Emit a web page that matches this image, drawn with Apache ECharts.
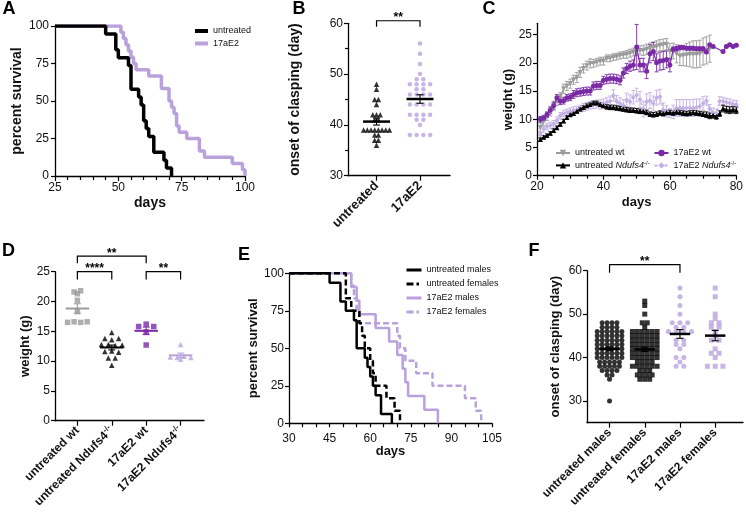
<!DOCTYPE html>
<html><head><meta charset="utf-8">
<script src="https://cdn.jsdelivr.net/npm/echarts@6/dist/echarts.min.js"></script>
<style>html,body{margin:0;padding:0;background:#fff}#c{width:746px;height:514px}</style>
</head><body><div id="c"></div>
<script>
// ---------- DATA ----------
// Panel A: Kaplan-Meier survival (day, percent)
const survA_untreated_days = [25,45,49,50,54,55,58,59,60,61,62,64,68,69,71];
const survA_untreated_pct  = [100,94.7,84.2,78.9,73.7,57.9,52.6,47.4,36.8,31.6,26.3,15.8,10.5,5.3,0];
const survA_17aE2_days = [25,51,52,53,54,55,56,57,62,67,70,71,72,73,74,77,82,84,95,99,100];
const survA_17aE2_pct  = [100,95.8,91.7,87.5,83.3,79.2,75,70.8,66.7,58.3,50,45.8,41.7,33.3,29.2,25,16.7,12.5,8.3,4.2,0];

// Panel B: onset of clasping (day)
const catsB = ['untreated','17aE2'];
const clasp_untreated = [48,47,45,45,44,42,42,42,41,41,39,39,39,39,39,39,39,39,38,38,37,37,36];
const clasp_17aE2 = [56,54,52,50,49,49,48,48,48,48,47,47,46,46,46,46,44,44,44,44,42,42,42,42,41,41,40,38,38,38,38];

// Panel C: weight over time (mean, SEM)
const daysC = [21,22,23,24,25,26,27,28,29,30,31,32,33,34,35,36,37,38,39,40,41,42,43,44,45,46,47,48,49,50,51,52,53,54,55,56,57,58,59,60,61,62,63,64,65,66,67,68,69,70,71,72,73,74,75,76,77,78,79,80];
const wUntreatedWt = [8.5,9.6,10.5,11.3,12.4,13.2,14.0,15.4,15.9,16.3, 17.0,17.4,18.3,19.0,19.5,19.9,19.9,20.1,20.3,20.3, 20.8,20.8,21.0,21.1,21.3,21.4,21.5,21.7,21.9,22.1, 22.2,22.2,22.4,22.6,22.7,22.9,23.1,23.2,23.3,22.0, 22.1,21.6,21.2,21.3,21.4,21.5,21.5,21.5,21.6,22.0, 22.2,22.5,null,null,null,null,null,null,null,null];
const eUntreatedWt = [0.9,0.8,0.7,0.7,0.8,0.8,0.7,0.8,0.8,0.8, 0.8,0.9,0.9,0.8,0.8,0.8,0.7,0.7,0.7,0.7, 0.6,0.6,0.6,0.6,0.6,0.6,0.7,0.7,0.7,0.8, 0.8,0.9,0.9,0.9,1.0,1.0,1.0,1.0,1.0,1.4, 1.4,1.6,1.7,1.8,2.0,2.2,2.4,2.4,2.4,2.4, 2.4,2.4,null,null,null,null,null,null,null,null];
const w17aE2Wt = [10.0,10.2,10.8,11.6,12.4,13.8,13.2,13.3,13.8,13.9, 14.4,14.7,14.8,14.9,15.0,15.0,15.9,16.0,16.0,16.9, 17.1,17.2,17.2,17.1,16.9,18.2,19.0,19.4,19.6,22.8, 19.6,19.6,18.5,21.6,22.0,20.0,20.3,20.4,20.6,19.6, 22.4,22.5,22.7,22.7,22.6,22.6,22.6,22.5,22.5,22.5, 21.9,23.2,22.9,null,null,22.0,22.9,23.2,22.9,23.1];
const e17aE2Wt = [0.5,0.5,0.5,0.6,0.6,0.6,0.6,0.6,0.6,0.6, 0.7,0.7,0.7,0.7,0.7,0.7,0.7,0.7,0.7,0.7, 0.8,0.8,0.8,0.8,0.8,0.9,0.9,0.9,0.9,4.0, 1.2,1.2,1.3,1.6,1.6,1.6,1.6,1.6,1.5,1.2, 0.4,0.4,0.4,0.3,0.3,0.3,0.3,0.3,0.3,0.3, 0.2,0.2,0.2,null,null,0.2,0.2,0.2,0.2,0.2];
const wUntreatedKo = [6.4,6.8,7.1,7.5,8.0,8.5,9.1,9.7,10.3,10.8, 11.0,11.4,11.8,12.1,12.4,12.6,12.9,12.9,12.6,12.4, 12.2,12.1,12.1,12.0,11.9,11.8,11.7,11.6,11.6,11.5, 11.4,11.4,11.2,10.9,10.8,10.9,11.1,11.0,11.2,11.2, 11.1,11.3,11.2,11.1,11.0,11.1,11.2,11.1,11.0,10.9, 10.8,10.6,10.7,10.5,11.0,11.9,11.7,11.6,11.7,11.6];
const eUntreatedKo = [0.3,0.3,0.3,0.3,0.3,0.3,0.3,0.3,0.3,0.3, 0.3,0.3,0.3,0.3,0.3,0.3,0.3,0.3,0.3,0.3, 0.4,0.4,0.4,0.4,0.4,0.4,0.4,0.4,0.4,0.4, 0.4,0.4,0.4,0.4,0.4,0.4,0.4,0.4,0.4,0.4, 0.4,0.4,0.4,0.4,0.4,0.4,0.4,0.4,0.4,0.4, 0.5,0.5,0.5,0.5,0.5,0.6,0.6,0.6,0.6,0.6];
const w17aE2Ko = [7.2,8.3,8.7,8.9,9.2,9.8,10.6,11.0,11.2,11.4, 11.6,11.7,11.9,12.1,12.3,12.5,12.6,12.7,12.6,12.8, 13.0,13.2,14.2,13.2,12.8,12.5,13.4,13.1,13.9,14.3, 13.5,11.8,13.1,13.3,12.8,13.8,14.0,11.7,11.4,11.1, 11.3,12.0,12.0,12.0,12.0,12.0,12.0,12.1,12.3,12.8, 13.3,11.8,11.2,11.0,13.2,13.2,13.0,12.9,12.7,12.6];
const e17aE2Ko = [0.6,0.6,0.6,0.6,0.6,0.6,0.6,0.6,0.6,0.6, 0.6,0.6,0.6,0.7,0.7,0.7,0.7,0.7,0.8,0.8, 0.8,0.9,1.0,1.0,1.0,1.0,1.2,1.2,1.2,1.2, 1.4,1.4,1.4,1.4,1.3,1.3,1.3,1.2,1.0,0.8, 1.2,1.5,1.5,1.5,1.5,1.5,1.5,1.5,1.3,1.2, 0.8,0.8,0.8,0.8,0.8,0.7,0.7,0.7,0.7,0.7];

// Panel D: weight (g)
const catsD = ['untreated wt','untreated Ndufs4-/-','17aE2 wt','17aE2 Ndufs4-/-'];
const weight_untreatedWt = [21.6,21.3,21.8,20.2,18.3,16.5,16.6,16.5,16.6];
const weight_untreatedKo = [14.8,13.8,13.6,13.8,12.8,12.8,12.6,12.7,11.6,11.7,11.5,10.5,10.5,9.3];
const weight_17aE2Wt = [15.8,16.2,15.8,14.9,12.7];
const weight_17aE2Ko = [12.8,10.3,10.7,10.6,10.8,10.6];

// Panel E: survival by sex
const survE_umales_days = [30,45,49,51,54,55,58,59,60,61,62,64,68];
const survE_umales_pct  = [100,93.75,81.25,75,68.75,50,43.75,37.5,31.25,25,18.75,6.25,0];
const survE_ufemales_days = [30,51,53,56,57,58,60,61,62,66,69,71];
const survE_ufemales_pct  = [100,83.3,75,66.7,58.3,50,41.7,33.3,25,16.7,8.3,0];
const survE_tmales_days = [30,53,55,56,62,67,70,72,73,74,80,85];
const survE_tmales_pct  = [100,90.9,81.8,72.7,63.6,54.5,45.5,36.4,27.3,18.2,9.1,0];
const survE_tfemales_days = [30,53,54,55,56,70,71,73,77,83,95,99,101];
const survE_tfemales_pct  = [100,91.7,83.3,75,66.7,58.3,50,41.7,33.3,25,16.7,8.3,0];

// Panel F: onset of clasping by sex
const catsF = ['untreated males','untreated females','17aE2 males','17aE2 females'];
const claspF_umales = [48,48,48,48,47,47,47,47,46,46,46,46,46,46,45,45,45,45,45,45,44,44,44,44,44,44,43,43,43,43,43,43,42,42,42,42,42,42,41,41,41,41,41,41,40,40,40,40,40,40,39,39,39,39,39,38,38,38,38,38,37,37,37,37,36,36,35,30];
const claspF_ufemales = [53,52,50,48,48,47,46,46,46,46,46,46,45,45,45,45,45,45,44,44,44,44,44,44,43,43,43,43,43,43,42,42,42,42,42,42,41,41,41,41,41,41,40,40,40,40,40,40,39,39,39,39,38,38,38,38,38,38,37,37,37,36,36,36,36,35,35,35];
const claspF_tmales = [56,54,52,50,48,48,48,47,47,46,46,46,46,44,44,43,43,42,40,40,39,38,38];
const claspF_tfemales = [56,54,50,49,48,48,47,47,46,45,44,44,42,41,41,40,38,38,38];

// ---------- STYLE / HELPERS ----------
const FONT = '"Liberation Sans", Arial, Helvetica, sans-serif';
const GRAY='#9b9b9b', PURPLE='#7b2aa6', LIGHT='#b9a2dc', LIGHTC='#c3b0e4', INK='#111';

function merge(a,b){const o=Object.assign({},a);for(const k in b){const v=b[k];if(v&&typeof v==='object'&&!Array.isArray(v)&&a[k]&&typeof a[k]==='object'&&!Array.isArray(a[k]))o[k]=merge(a[k],v);else o[k]=v;}return o;}
const baseAxis = {
  axisLine:{show:true,onZero:false,lineStyle:{color:'#000',width:1.3}},
  axisTick:{show:true,length:4,lineStyle:{color:'#000',width:1.2}},
  minorTick:{show:false,length:3,lineStyle:{color:'#000',width:1.2}},
  axisLabel:{color:INK,fontSize:12,fontFamily:FONT,margin:5},
  splitLine:{show:false}, minorSplitLine:{show:false},
  nameLocation:'middle',
  nameTextStyle:{color:INK,fontSize:13,fontWeight:'bold',fontFamily:FONT}
};
const ax = e => merge(baseAxis, e);

function swarm(vals, spacing){
  const groups={}; vals.forEach((v,i)=>{const k=Math.round(v);(groups[k]=groups[k]||[]).push(i);});
  const off=new Array(vals.length);
  Object.keys(groups).forEach(k=>{const g=groups[k];g.forEach((i,j)=>{off[i]=(j-(g.length-1)/2)*spacing;});});
  return off;
}
function meanSem(vals){const n=vals.length,m=vals.reduce((a,b)=>a+b,0)/n;const sd=Math.sqrt(vals.reduce((a,b)=>a+(b-m)*(b-m),0)/(n-1));return [m,sd/Math.sqrt(n)];}

function dotGroup(ai, pos, vals, o){
  const off=swarm(vals,o.spacing); const ms=meanSem(vals);
  return [
    {type:'scatter',name:o.name,xAxisIndex:ai,yAxisIndex:ai,symbol:o.symbol,symbolSize:o.size,
     itemStyle:{color:o.color},data:vals.map((v,i)=>[pos+off[i],v]),z:3,silent:true},
    {type:'custom',xAxisIndex:ai,yAxisIndex:ai,z:5,silent:true,data:[[pos,ms[0],ms[1]]],encode:{x:0,y:1},
     renderItem:(p,api)=>{const x=api.value(0),m=api.value(1),s=api.value(2);
       const a=api.coord([x-o.halfW,m]),b=api.coord([x+o.halfW,m]),hi=api.coord([x,m+s]),lo=api.coord([x,m-s]);const cw=3.5,c=o.meanColor;
       return {type:'group',children:[
        {type:'line',shape:{x1:a[0],y1:a[1],x2:b[0],y2:b[1]},style:{stroke:c,lineWidth:o.meanW}},
        {type:'line',shape:{x1:hi[0],y1:hi[1],x2:lo[0],y2:lo[1]},style:{stroke:c,lineWidth:1.1}},
        {type:'line',shape:{x1:hi[0]-cw,y1:hi[1],x2:hi[0]+cw,y2:hi[1]},style:{stroke:c,lineWidth:1.1}},
        {type:'line',shape:{x1:lo[0]-cw,y1:lo[1],x2:lo[0]+cw,y2:lo[1]},style:{stroke:c,lineWidth:1.1}}]};}}
  ];
}
function brackets(ai, list){
  return {type:'custom',xAxisIndex:ai,yAxisIndex:ai,z:6,silent:true,clip:false,
    data:list.map(b=>[b.from,b.to,b.y,b.drop]),encode:{x:0,y:2},
    renderItem:(p,api)=>{const x1=api.value(0),x2=api.value(1),y=api.value(2),d=api.value(3);
      const A=api.coord([x1,y-d]),B=api.coord([x1,y]),C=api.coord([x2,y]),D=api.coord([x2,y-d]);
      return {type:'group',children:[
        {type:'polyline',shape:{points:[A,B,C,D]},style:{stroke:'#000',lineWidth:1.2,fill:null}},
        {type:'text',x:(B[0]+C[0])/2,y:B[1]+3,style:{text:list[p.dataIndex].label,align:'center',verticalAlign:'bottom',font:'bold 12px '+FONT,fill:'#000'}}]};}};
}
function errBars(ai, xs, ys, es, color, z){
  const data=[];xs.forEach((x,i)=>{if(ys[i]!=null)data.push([x,ys[i]-es[i],ys[i]+es[i]]);});
  return {type:'custom',xAxisIndex:ai,yAxisIndex:ai,z:z,silent:true,data:data,encode:{x:0,y:[1,2]},
    renderItem:(p,api)=>{const x=api.value(0),lo=api.coord([x,api.value(1)]),hi=api.coord([x,api.value(2)]);const w=2;
      return {type:'group',children:[
        {type:'line',shape:{x1:lo[0],y1:lo[1],x2:hi[0],y2:hi[1]},style:{stroke:color,lineWidth:0.9}},
        {type:'line',shape:{x1:lo[0]-w,y1:lo[1],x2:lo[0]+w,y2:lo[1]},style:{stroke:color,lineWidth:0.9}},
        {type:'line',shape:{x1:hi[0]-w,y1:hi[1],x2:hi[0]+w,y2:hi[1]},style:{stroke:color,lineWidth:0.9}}]};}};
}
const pairs=(xs,ys)=>xs.map((x,i)=>[x,ys[i]]).filter(p=>p[1]!=null);
function stepLine(name, ai, xs, ys, color, width, dash, z){
  return {type:'line',name:name,xAxisIndex:ai,yAxisIndex:ai,step:'end',symbol:'none',showSymbol:false,z:z,
    data:pairs(xs,ys),lineStyle:{color:color,width:width,type:dash||'solid',cap:'butt'},itemStyle:{color:color},silent:true};
}
function wLine(name, ai, xs, ys, color, sym, rot, dash, z){
  return {type:'line',name:name,xAxisIndex:ai,yAxisIndex:ai,symbol:sym,symbolSize:5,symbolRotate:rot,showSymbol:true,z:z,
    data:pairs(xs,ys),lineStyle:{color:color,width:1.2,type:dash||'solid'},itemStyle:{color:color},silent:true};
}
function richName(s){const m=s.match(/^(.*?)(-\/-)$/);return m?'{b|'+m[1]+'}{sup|'+m[2]+'}':'{b|'+s+'}';}
const catRich={b:{fontWeight:'bold',fontSize:12,fontFamily:FONT,color:INK},sup:{fontWeight:'bold',fontSize:8,fontFamily:FONT,color:INK,padding:[0,0,7,0]}};
function legRich(s){const m=s.match(/^(.*?)(Ndufs4)(-\/-)$/);return m?'{n|'+m[1]+'}{i|'+m[2]+'}{sup|'+m[3]+'}':'{n|'+s+'}';}
const legTextStyle={fontSize:9,fontFamily:FONT,color:INK,lineHeight:12,
  rich:{n:{fontSize:9,fontFamily:FONT,color:INK},i:{fontSize:9,fontFamily:FONT,fontStyle:'italic',color:INK},sup:{fontSize:6,fontFamily:FONT,color:INK,padding:[0,0,5,0]}}};

// ---------- OPTION ----------
const grid=[
  {left:55,top:26,width:190,height:150},
  {left:348,top:23.3,width:102,height:152.4},
  {left:537,top:23.3,width:204,height:152.4},
  {left:55,top:271.7,width:149,height:149},
  {left:289,top:273.3,width:203,height:150},
  {left:587,top:270.7,width:156,height:152}
];
const xAxis=[
  ax({gridIndex:0,type:'value',min:25,max:100,interval:25,axisTick:{length:5},minorTick:{show:true,splitNumber:5,length:4},axisLabel:{margin:6},name:'days',nameGap:20,nameTextStyle:{fontSize:14}}),
  ax({gridIndex:1,type:'value',min:-0.656,max:1.69,axisTick:{customValues:[0,1],length:5},axisLabel:{customValues:[0,1],rotate:45,margin:8,fontWeight:'bold',fontSize:13,formatter:v=>catsB[Math.round(v)]}}),
  ax({gridIndex:2,type:'value',min:20,max:80,interval:20,minorTick:{show:true,splitNumber:4,length:3},name:'days',nameGap:20}),
  ax({gridIndex:3,type:'value',min:-0.65,max:3.68,axisTick:{customValues:[0,1,2,3],length:5},axisLabel:{customValues:[0,1,2,3],rotate:45,margin:8,formatter:v=>richName(catsD[Math.round(v)]),rich:catRich}}),
  ax({gridIndex:4,type:'value',min:30,max:105,interval:15,minorTick:{show:true,splitNumber:3,length:4},axisLabel:{margin:9},name:'days',nameGap:22}),
  ax({gridIndex:5,type:'value',min:-0.64,max:3.79,axisTick:{customValues:[0,1,2,3],length:5},axisLabel:{customValues:[0,1,2,3],rotate:45,margin:8,formatter:v=>richName(catsF[Math.round(v)]),rich:catRich}})
];
const yAxis=[
  ax({gridIndex:0,type:'value',min:0,max:100,interval:25,axisLabel:{margin:6},name:'percent survival',nameGap:31,nameTextStyle:{fontSize:14}}),
  ax({gridIndex:1,type:'value',min:30,max:60,interval:10,minorTick:{show:true,splitNumber:2,length:3},name:'onset of clasping (day)',nameGap:46,nameTextStyle:{fontSize:14}}),
  ax({gridIndex:2,type:'value',min:0,max:27,axisTick:{customValues:[0,5,10,15,20,25]},axisLabel:{customValues:[0,5,10,15,20,25]},name:'weight (g)',nameGap:21}),
  ax({gridIndex:3,type:'value',min:0,max:25,interval:5,name:'weight (g)',nameGap:23}),
  ax({gridIndex:4,type:'value',min:0,max:100,interval:25,name:'percent survival',nameGap:28}),
  ax({gridIndex:5,type:'value',min:25,max:60,axisTick:{customValues:[30,40,50,60]},axisLabel:{customValues:[30,40,50,60]},name:'onset of clasping (day)',nameGap:25})
];

const series=[
  // A
  stepLine('17aE2',0,survA_17aE2_days,survA_17aE2_pct,LIGHT,3.5,null,2),
  stepLine('untreated',0,survA_untreated_days,survA_untreated_pct,'#000',3.5,null,3),
  // B
  ...dotGroup(1,0,clasp_untreated,{name:'B untreated',symbol:'triangle',size:5.5,color:'#000',spacing:0.085,meanColor:'#000',halfW:0.31,meanW:2.5}),
  ...dotGroup(1,1,clasp_17aE2,{name:'B 17aE2',symbol:'circle',size:4.5,color:LIGHT,spacing:0.155,meanColor:'#000',halfW:0.31,meanW:2.5}),
  brackets(1,[{from:0,to:1,y:60.5,drop:1.2,label:'**'}]),
  // C
  errBars(2,daysC,wUntreatedWt,eUntreatedWt,GRAY,1),
  errBars(2,daysC,w17aE2Ko,e17aE2Ko,LIGHTC,1),
  errBars(2,daysC,w17aE2Wt,e17aE2Wt,PURPLE,1),
  errBars(2,daysC,wUntreatedKo,eUntreatedKo,'#000',1),
  wLine('untreated wt',2,daysC,wUntreatedWt,GRAY,'triangle',180,null,2),
  wLine('17aE2 Ndufs4-/-',2,daysC,w17aE2Ko,LIGHTC,'diamond',0,[3,2],2),
  wLine('17aE2 wt',2,daysC,w17aE2Wt,PURPLE,'circle',0,null,3),
  wLine('untreated Ndufs4-/-',2,daysC,wUntreatedKo,'#000','triangle',0,null,4),
  // D
  ...dotGroup(3,0,weight_untreatedWt,{name:'D untreated wt',symbol:'rect',size:5.5,color:GRAY,spacing:0.19,meanColor:GRAY,halfW:0.34,meanW:2}),
  ...dotGroup(3,1,weight_untreatedKo,{name:'D untreated ko',symbol:'triangle',size:5.5,color:'#000',spacing:0.2,meanColor:'#000',halfW:0.34,meanW:2}),
  ...dotGroup(3,2,weight_17aE2Wt,{name:'D 17aE2 wt',symbol:'rect',size:5.5,color:PURPLE,spacing:0.22,meanColor:PURPLE,halfW:0.34,meanW:2}),
  ...dotGroup(3,3,weight_17aE2Ko,{name:'D 17aE2 ko',symbol:'triangle',size:5.5,color:LIGHT,spacing:0.2,meanColor:LIGHT,halfW:0.34,meanW:2}),
  brackets(3,[{from:0,to:2,y:27.6,drop:1.2,label:'**'},{from:0,to:1,y:25,drop:1.3,label:'****'},{from:2,to:3,y:25,drop:1.3,label:'**'}]),
  // E
  stepLine('17aE2 females',4,survE_tfemales_days,survE_tfemales_pct,LIGHT,2.5,[6,3],1),
  stepLine('17aE2 males',4,survE_tmales_days,survE_tmales_pct,LIGHT,2.5,null,2),
  stepLine('untreated females',4,survE_ufemales_days,survE_ufemales_pct,'#000',2.5,[6,3],3),
  stepLine('untreated males',4,survE_umales_days,survE_umales_pct,'#000',2.5,null,4),
  // F
  ...dotGroup(5,0,claspF_umales,{name:'F um',symbol:'circle',size:5,color:'#000',spacing:0.14,meanColor:'#000',halfW:0.29,meanW:2.5}),
  ...dotGroup(5,1,claspF_ufemales,{name:'F uf',symbol:'rect',size:5,color:'#000',spacing:0.14,meanColor:'#000',halfW:0.29,meanW:2.5}),
  ...dotGroup(5,2,claspF_tmales,{name:'F tm',symbol:'circle',size:5,color:LIGHT,spacing:0.22,meanColor:'#000',halfW:0.29,meanW:2.5}),
  ...dotGroup(5,3,claspF_tfemales,{name:'F tf',symbol:'rect',size:5,color:LIGHT,spacing:0.22,meanColor:'#000',halfW:0.29,meanW:2.5}),
  brackets(5,[{from:0,to:2,y:61.4,drop:1.9,label:'**'}])
];

const DASH_ICON='path://M0,0H7V3H0Z M10,0H12.5V3H10Z M15,0H15.01V3H15Z';
const legendCommon={orient:'vertical',padding:0,selectedMode:false,itemWidth:14,itemHeight:8,textStyle:legTextStyle,formatter:legRich};
const legend=[
  merge(legendCommon,{data:[{name:'untreated',icon:'rect'},{name:'17aE2',icon:'rect'}],left:195,top:25,itemWidth:13,itemHeight:4,itemGap:0.5}),
  merge(legendCommon,{data:['untreated wt','untreated Ndufs4-/-'],left:555,top:147,itemGap:0.4}),
  merge(legendCommon,{data:['17aE2 wt','17aE2 Ndufs4-/-'],left:653.5,top:147,itemGap:0.4}),
  merge(legendCommon,{data:[{name:'untreated males',icon:'rect'},{name:'untreated females',icon:DASH_ICON},{name:'17aE2 males',icon:'rect'},{name:'17aE2 females',icon:DASH_ICON}],left:406.5,top:264,itemWidth:15,itemHeight:3,itemGap:2})
];
const letter=(t,x,y)=>({type:'text',x:x,y:y,style:{text:t,font:'bold 18px '+FONT,fill:'#000',align:'center',verticalAlign:'middle'}});
const graphic=[letter('A',9,9),letter('B',299,9),letter('C',489,9),letter('D',8.5,251),letter('E',244,255),letter('F',534,251)];

const chart=echarts.init(document.getElementById('c'),null,{renderer:'canvas'});
chart.setOption({animation:false,backgroundColor:'#fff',textStyle:{fontFamily:FONT},grid,xAxis,yAxis,series,legend,graphic});
</script></body></html>
